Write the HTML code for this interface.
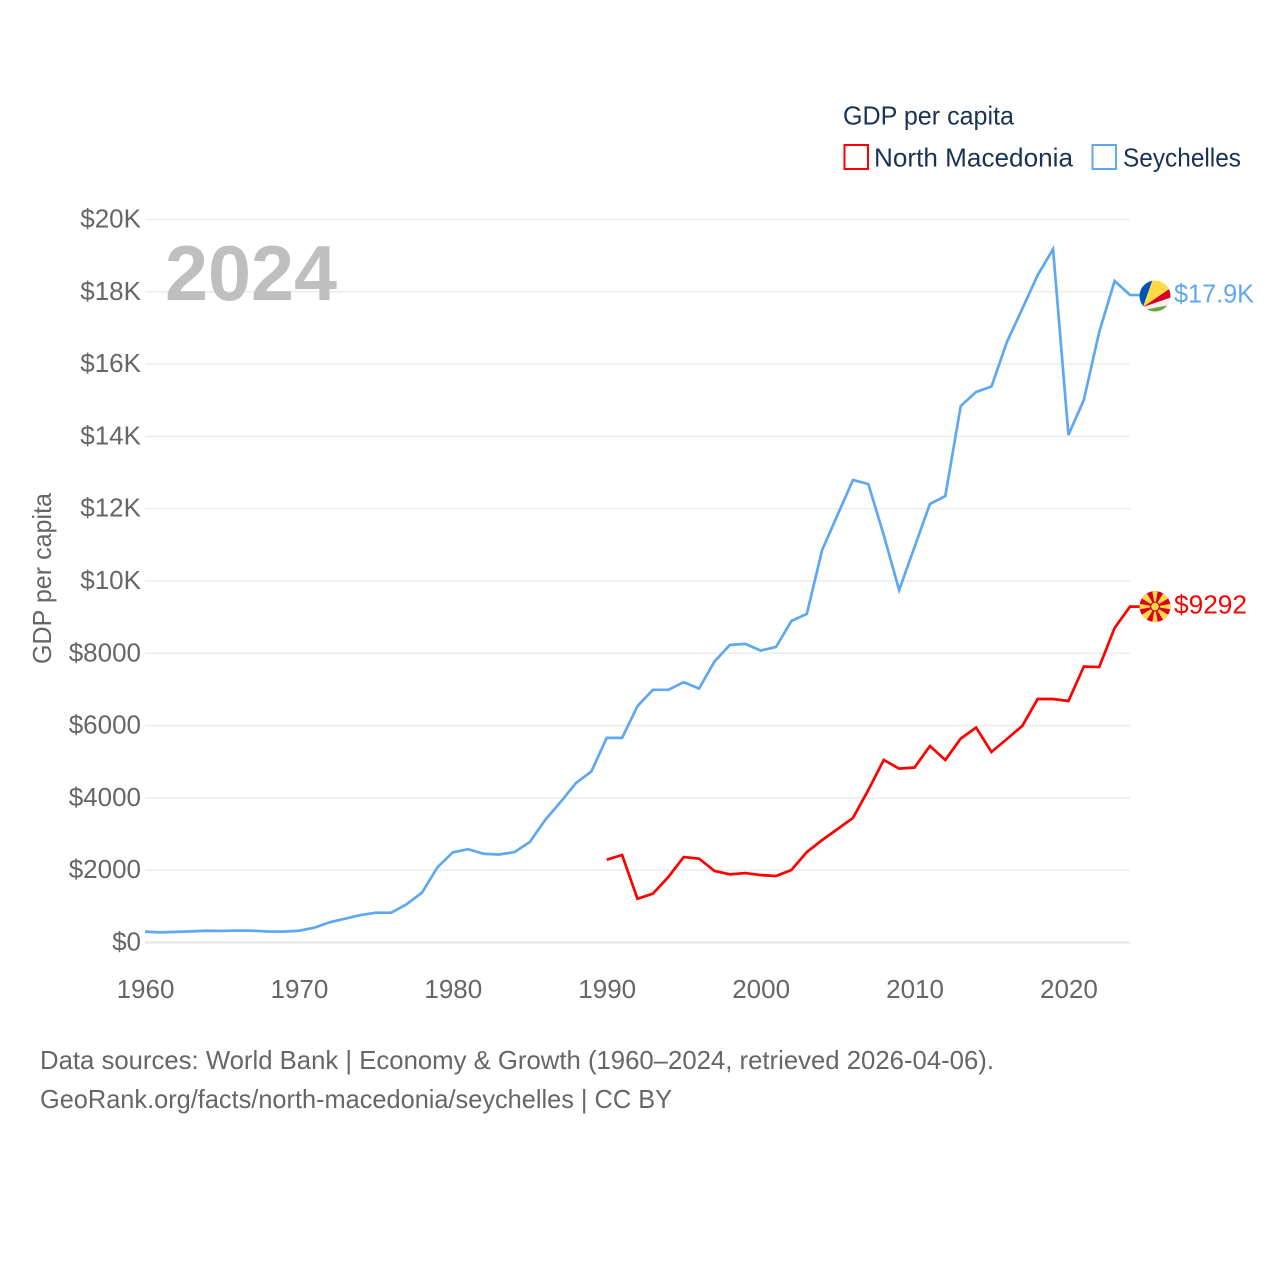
<!DOCTYPE html>
<html lang="en">
<head>
<meta charset="utf-8">
<title>GDP per capita: North Macedonia and Seychelles</title>
<style>
html,body{margin:0;padding:0;background:#fff;width:1280px;height:1280px;overflow:hidden}
svg{display:block}
text{font-family:"Liberation Sans",sans-serif;font-size:26px}
.tick{fill:#666}
.legend{fill:#1a3354}
</style>
</head>
<body>
<svg id="chart" xmlns="http://www.w3.org/2000/svg" width="1280" height="1280" viewBox="0 0 1280 1280">
  <rect width="1280" height="1280" fill="#fff"/>
  <g id="grid"></g>
  <g id="yAxis"></g>
  <g id="xAxis"></g>
  <text x="165" y="300" style="font-size:78px;font-weight:700" fill="#bfbfbf" textLength="172" lengthAdjust="spacingAndGlyphs">2024</text>
  <text class="tick" transform="translate(51,664) rotate(-90)" textLength="171" lengthAdjust="spacingAndGlyphs">GDP per capita</text>
  <g id="series"></g>

  <g id="flagSeychelles">
    <clipPath id="clipSc"><circle r="15.5"/></clipPath>
    <g clip-path="url(#clipSc)">
      <circle r="16" fill="#eeeeee"/>
      <polygon points="-12,11 -20,11 -20,-20 -1,-20" fill="#0052b4"/>
      <polygon points="-12,11 -1,-20 20,-20 20,-11" fill="#ffda44"/>
      <polygon points="-12,11 20,-11 20,0" fill="#d80027"/>
      <polygon points="-12,14 20,8 20,20 -12,20" fill="#6da544"/>
    </g>
  </g>

  <g id="flagMacedonia">
    <clipPath id="clipMk"><circle r="15.5"/></clipPath>
    <g clip-path="url(#clipMk)">
      <circle r="16" fill="#d80027"/>
      <g fill="#ffda44">
        <polygon points="-3,-17 3,-17 0,0"/>
        <polygon points="-3,17 3,17 0,0"/>
        <polygon points="-17,-3 -17,3 0,0"/>
        <polygon points="17,-3 17,3 0,0"/>
        <polygon points="-4,-17 4,-17 0,0" transform="rotate(45)"/>
        <polygon points="-4,-17 4,-17 0,0" transform="rotate(135)"/>
        <polygon points="-4,-17 4,-17 0,0" transform="rotate(225)"/>
        <polygon points="-4,-17 4,-17 0,0" transform="rotate(315)"/>
      </g>
      <circle r="5" fill="#d80027"/>
      <circle r="3.8" fill="#ffda44"/>
    </g>
  </g>

  <text id="labelSeychelles" x="1174" fill="#5fa8ef" textLength="80" lengthAdjust="spacingAndGlyphs"></text>
  <text id="labelMacedonia" x="1174" fill="#ff0000" textLength="73" lengthAdjust="spacingAndGlyphs"></text>

  <g>
    <text class="legend" x="843" y="124.5" textLength="171" lengthAdjust="spacingAndGlyphs">GDP per capita</text>
    <rect x="844.5" y="145" width="23.5" height="24" fill="none" stroke="#ff0000" stroke-width="2"/>
    <text class="legend" x="874" y="166.5" textLength="199" lengthAdjust="spacingAndGlyphs">North Macedonia</text>
    <rect x="1092.5" y="145" width="23.5" height="24" fill="none" stroke="#5fa8ef" stroke-width="2"/>
    <text class="legend" x="1123" y="166.5" textLength="118" lengthAdjust="spacingAndGlyphs">Seychelles</text>
  </g>

  <text class="tick" x="40" y="1069" textLength="954" lengthAdjust="spacingAndGlyphs">Data sources: World Bank | Economy &amp; Growth (1960–2024, retrieved 2026-04-06).</text>
  <text class="tick" x="40" y="1108" textLength="632" lengthAdjust="spacingAndGlyphs">GeoRank.org/facts/north-macedonia/seychelles | CC BY</text>
</svg>

<script>
const seychellesStart = 1960;
const seychellesValues = [300,280,293,308,325,320,330,325,305,300,325,410,560,660,760,825,825,1060,1380,2080,2495,2580,2455,2435,2500,2780,3390,3885,4410,4730,5660,5660,6540,6990,6990,7200,7025,7770,8230,8260,8075,8175,8895,9090,10860,11830,12795,12680,11270,9750,10940,12130,12350,14840,15230,15380,16610,17530,18460,19180,14040,15010,16890,18300,17910];
const macedoniaStart = 1990;
const macedoniaValues = [2290,2420,1210,1350,1810,2365,2320,1980,1885,1920,1865,1840,2005,2500,2835,3140,3445,4220,5050,4810,4840,5435,5050,5640,5945,5270,5630,5990,6735,6735,6680,7635,7620,8700,9292];
const yTickValues = [0,2000,4000,6000,8000,10000,12000,14000,16000,18000,20000];
const yTickLabels = ["$0","$2000","$4000","$6000","$8000","$10K","$12K","$14K","$16K","$18K","$20K"];
const xTickValues = [1960,1970,1980,1990,2000,2010,2020];
const xTickLabels = ["1960","1970","1980","1990","2000","2010","2020"];
const seychellesEndLabel = "$17.9K";
const macedoniaEndLabel = "$9292";

const NS = "http://www.w3.org/2000/svg";
function xScale(year){ return 145 + (year - 1960) * (1130 - 145) / 64; }
function yScale(v){ return 942.5 - v * (942.5 - 219.5) / 20000; }
function make(tag, attrs, parent){
  const el = document.createElementNS(NS, tag);
  for (const k in attrs) el.setAttribute(k, attrs[k]);
  parent.appendChild(el);
  return el;
}

const grid = document.getElementById("grid");
const yAxis = document.getElementById("yAxis");
yTickValues.forEach(function(v, i){
  const line = make("line", {x1:145, x2:1130, y1:yScale(v), y2:yScale(v), stroke:(v===0?"#e6e6e6":"#ececec"), "stroke-width":(v===0?2:1.5)}, grid);
  
  
  const t = make("text", {x:141, y:yScale(v)+8, "text-anchor":"end", class:"tick"}, yAxis);
  t.textContent = yTickLabels[i];
  
  
});

const xAxis = document.getElementById("xAxis");
xTickValues.forEach(function(v, i){
  const t = make("text", {x:xScale(v)+0.5, y:998, "text-anchor":"middle", class:"tick"}, xAxis);
  t.textContent = xTickLabels[i];
  
  
});

function linePoints(values, start){
  const pts = values.map(function(v, i){ return xScale(start + i).toFixed(2) + "," + yScale(v).toFixed(2); });
  const last = values[values.length - 1];
  pts.push("1140," + yScale(last).toFixed(2));
  return pts.join(" ");
}

const series = document.getElementById("series");
const lineSc = make("polyline", {points:linePoints(seychellesValues, seychellesStart), fill:"none", stroke:"#5fa8ef", "stroke-width":2.7, "stroke-linejoin":"miter"}, series);


const lineMk = make("polyline", {points:linePoints(macedoniaValues, macedoniaStart), fill:"none", stroke:"#ff0000", "stroke-width":2.7, "stroke-linejoin":"miter"}, series);



const lastSc = seychellesValues[seychellesValues.length - 1];
const lastMk = macedoniaValues[macedoniaValues.length - 1];
document.getElementById("flagSeychelles").setAttribute("transform", "translate(1155," + (yScale(lastSc) + 1) + ")");
document.getElementById("flagMacedonia").setAttribute("transform", "translate(1155," + yScale(lastMk) + ")");
const labelSc = document.getElementById("labelSeychelles");
labelSc.setAttribute("y", yScale(lastSc) + 7.5);
labelSc.textContent = seychellesEndLabel;
const labelMk = document.getElementById("labelMacedonia");
labelMk.setAttribute("y", yScale(lastMk) + 7);
labelMk.textContent = macedoniaEndLabel;
</script>
</body>
</html>
